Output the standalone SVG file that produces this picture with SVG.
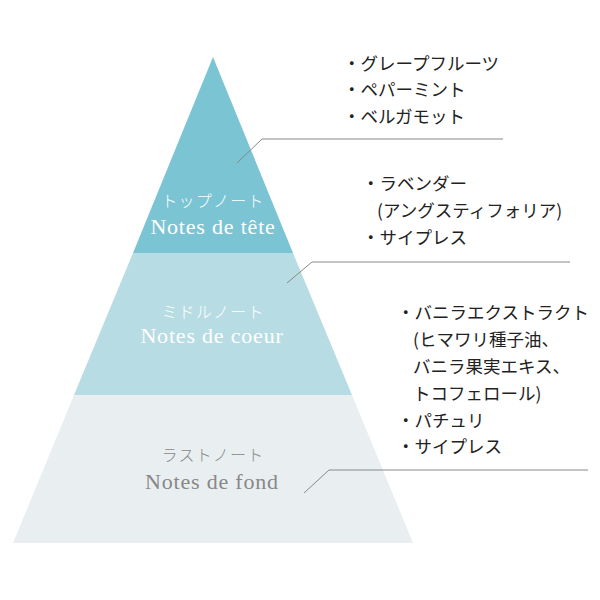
<svg xmlns="http://www.w3.org/2000/svg" width="600" height="600" viewBox="0 0 600 600">
<style>
.list{font-family:"Noto Sans CJK JP","Noto Sans",sans-serif;font-size:17.5px;fill:#222;}
.kana{font-family:"Noto Sans CJK JP",sans-serif;font-weight:300;font-size:16px;letter-spacing:1.2px;text-anchor:middle;}
.latin{font-family:"Liberation Serif",serif;font-size:22px;letter-spacing:0.8px;text-anchor:middle;}
.conn{fill:none;stroke:#888;stroke-width:1;}
</style>
<rect width="600" height="600" fill="#fff"/>
<g id="base-note">
<polygon points="74,395 352,395 413,543 13,543" fill="#e9eff0"/>
<text class="kana" x="213" y="461" fill="#888">ラストノート</text>
<text class="latin" x="212" y="489" fill="#888">Notes de fond</text>
</g>
<g id="middle-note">
<polygon points="133,253 293,253 352,395 74,395" fill="#b8dce3"/>
<text class="kana" x="213" y="318" fill="#fff">ミドルノート</text>
<text class="latin" x="212" y="343" fill="#fff">Notes de coeur</text>
</g>
<g id="top-note">
<polygon points="213,57 293,253 133,253" fill="#7bc4d3"/>
<text class="kana" x="213" y="207" fill="#fff">トップノート</text>
<text class="latin" x="213" y="234" fill="#fff">Notes de tête</text>
</g>
<g id="connectors">
<polyline class="conn" points="237,163 262,139 503,139"/>
<polyline class="conn" points="287,283 312,262 570,262"/>
<polyline class="conn" points="304,493 329,470 588,470"/>
</g>
<g id="top-list">
<text class="list" x="343" y="70">・グレープフルーツ</text>
<text class="list" x="343" y="96">・ペパーミント</text>
<text class="list" x="343" y="123">・ベルガモット</text>
</g>
<g id="middle-list">
<text class="list" x="362" y="190">・ラベンダー</text>
<text class="list" x="377" y="217">(アングスティフォリア)</text>
<text class="list" x="362" y="244">・サイプレス</text>
</g>
<g id="base-list">
<text class="list" x="397" y="319">・バニラエクストラクト</text>
<text class="list" x="413" y="346">(ヒマワリ種子油、</text>
<text class="list" x="413" y="373">バニラ果実エキス、</text>
<text class="list" x="413" y="400">トコフェロール)</text>
<text class="list" x="397" y="427">・パチュリ</text>
<text class="list" x="397" y="453">・サイプレス</text>
</g>
</svg>
